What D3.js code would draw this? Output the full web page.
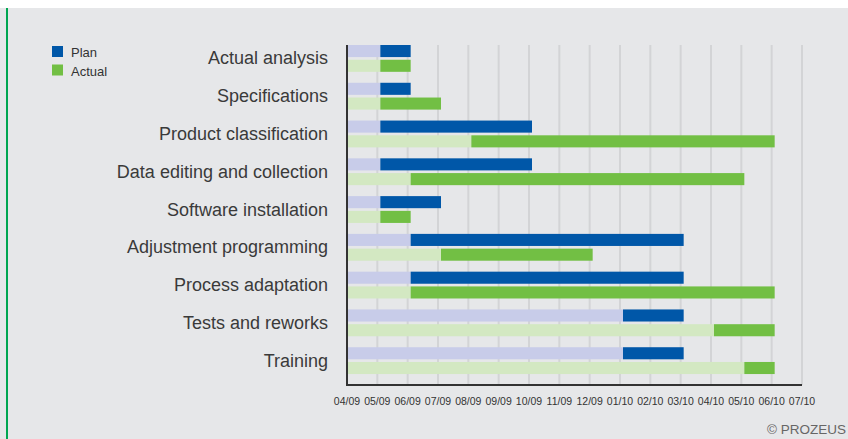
<!DOCTYPE html>
<html>
<head>
<meta charset="utf-8">
<script src="https://cdn.jsdelivr.net/npm/d3@7"></script>
<style>
  body { margin: 0; background: #fff; }
  svg { display: block; font-family: "Liberation Sans", Arial, sans-serif; }
</style>
</head>
<body>
<div class="board"></div>
<script>
// chart data: months counted from 04/09 (0) to 07/10 (15)
var tasks = ['Actual analysis', 'Specifications', 'Product classification',
  'Data editing and collection', 'Software installation', 'Adjustment programming',
  'Process adaptation', 'Tests and reworks', 'Training'];
var planStart = [1, 1, 1, 1, 1, 2, 2, 9, 9];
var planEnd = [2, 2, 6, 6, 3, 11, 11, 11, 11];
var actualStart = [1, 1, 4, 2, 1, 3, 2, 12, 13];
var actualEnd = [2, 3, 14, 13, 2, 8, 14, 14, 14];
var monthLabels = ['04/09', '05/09', '06/09', '07/09', '08/09', '09/09', '10/09', '11/09',
  '12/09', '01/10', '02/10', '03/10', '04/10', '05/10', '06/10', '07/10'];

var opts = {
  width: 848,
  height: 439,
  left: 347,
  right: 802,
  top: 45,
  bottom: 385
};

var colors = {
  bg: '#e6e7e9',
  plan: '#0057a8',
  planLight: '#c8cce9',
  actual: '#72bf44',
  actualLight: '#d3e8c2',
  grid: '#d3d4d6',
  axis: '#333'
};

var svg = d3.select('.board')
  .append('svg')
  .attr('width', opts.width)
  .attr('height', opts.height);

svg.append('rect')
  .attr('x', 0).attr('y', 8)
  .attr('width', opts.width).attr('height', opts.height - 8)
  .attr('fill', colors.bg);

// green rule on the left edge
svg.append('rect')
  .attr('x', 6).attr('y', 8)
  .attr('width', 2).attr('height', opts.height - 8)
  .attr('fill', '#00a651');

var x = d3.scaleLinear().domain([0, 15]).range([opts.left, opts.right]);
// bars sit a few pixels to the right of the grid
var xBar = d3.scaleLinear().domain([0, 15]).range([opts.left + 3, opts.right + 3]);

var y = d3.scaleBand()
  .domain(tasks)
  .range([opts.top, opts.bottom])
  .paddingInner(0.29)
  .paddingOuter(0.145)
  .align(0);

var barH = y.bandwidth() * 0.45;

// vertical grid
svg.append('g')
  .selectAll('line')
  .data(d3.range(1, 16))
  .join('line')
  .attr('x1', function(d) { return x(d); })
  .attr('x2', function(d) { return x(d); })
  .attr('y1', opts.top)
  .attr('y2', opts.bottom)
  .attr('stroke', colors.grid)
  .attr('stroke-width', 2);

var rows = tasks.map(function(t, i) {
  return { task: t, ps: planStart[i], pe: planEnd[i], as: actualStart[i], ae: actualEnd[i] };
});

var g = svg.append('g');

// light lead-in bars
g.selectAll('.plan-lead')
  .data(rows)
  .join('rect')
  .attr('class', 'plan-lead')
  .attr('x', opts.left + 1)
  .attr('y', function(d) { return y(d.task); })
  .attr('width', function(d) { return xBar(d.ps) - opts.left - 1; })
  .attr('height', barH)
  .attr('fill', colors.planLight);

g.selectAll('.plan-bar')
  .data(rows)
  .join('rect')
  .attr('class', 'plan-bar')
  .attr('x', function(d) { return xBar(d.ps); })
  .attr('y', function(d) { return y(d.task); })
  .attr('width', function(d) { return xBar(d.pe) - xBar(d.ps); })
  .attr('height', barH)
  .attr('fill', colors.plan);

g.selectAll('.actual-lead')
  .data(rows)
  .join('rect')
  .attr('class', 'actual-lead')
  .attr('x', opts.left + 1)
  .attr('y', function(d) { return y(d.task) + y.bandwidth() - barH; })
  .attr('width', function(d) { return xBar(d.as) - opts.left - 1; })
  .attr('height', barH)
  .attr('fill', colors.actualLight);

g.selectAll('.actual-bar')
  .data(rows)
  .join('rect')
  .attr('class', 'actual-bar')
  .attr('x', function(d) { return xBar(d.as); })
  .attr('y', function(d) { return y(d.task) + y.bandwidth() - barH; })
  .attr('width', function(d) { return xBar(d.ae) - xBar(d.as); })
  .attr('height', barH)
  .attr('fill', colors.actual);

// axes lines
svg.append('line')
  .attr('x1', opts.left).attr('x2', opts.left)
  .attr('y1', opts.top).attr('y2', opts.bottom + 1)
  .attr('stroke', colors.axis).attr('stroke-width', 2);
svg.append('line')
  .attr('x1', opts.left - 1).attr('x2', opts.right)
  .attr('y1', opts.bottom).attr('y2', opts.bottom)
  .attr('stroke', colors.axis).attr('stroke-width', 2);

// task labels
svg.append('g')
  .selectAll('text')
  .data(tasks)
  .join('text')
  .attr('x', 328)
  .attr('y', function(d) { return y(d) + y.bandwidth() / 2 + 6; })
  .attr('text-anchor', 'end')
  .attr('font-size', 18)
  .attr('fill', '#3a3a3a')
  .text(function(d) { return d; });

// month labels
svg.append('g')
  .selectAll('text')
  .data(monthLabels)
  .join('text')
  .attr('x', function(d, i) { return x(i); })
  .attr('y', 405)
  .attr('text-anchor', 'middle')
  .attr('font-size', 10.5)
  .attr('fill', '#333')
  .text(function(d) { return d; });

// legend
var legend = svg.append('g');
legend.selectAll('rect')
  .data([colors.plan, colors.actual])
  .join('rect')
  .attr('x', 52)
  .attr('y', function(d, i) { return 46 + i * 18.5; })
  .attr('width', 11).attr('height', 11)
  .attr('fill', function(d) { return d; });
legend.selectAll('text')
  .data(['Plan', 'Actual'])
  .join('text')
  .attr('x', 71)
  .attr('y', function(d, i) { return 57 + i * 18.5; })
  .attr('font-size', 13)
  .attr('fill', '#333')
  .text(function(d) { return d; });

svg.append('text')
  .attr('x', 767)
  .attr('y', 434)
  .attr('font-size', 13.5)
  .attr('fill', '#666')
  .text('© PROZEUS');
</script>
</body>
</html>
